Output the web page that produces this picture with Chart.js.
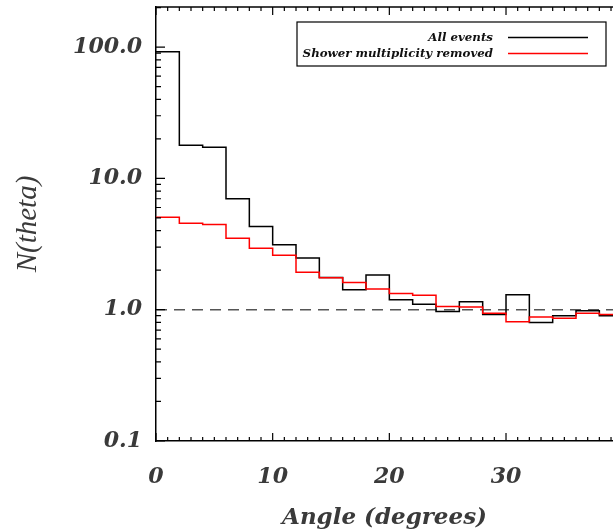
<!DOCTYPE html>
<html>
<head>
<meta charset="utf-8">
<script src="https://cdn.jsdelivr.net/npm/chart.js@4"></script>
<style>
  body { margin: 0; background: #fff; }
</style>
</head>
<body>
<canvas id="chart" width="613" height="532"></canvas>
<script>
// bin edges of the 2-degree histogram (left edge of each bin, then the last right edge)
const binEdges = [0, 2, 4, 6, 8, 10, 12, 14, 16, 18, 20, 22, 24, 26, 28, 30, 32, 34, 36, 38, 40];
const allEvents = [92, 17.9, 17.3, 7.0, 4.3, 3.13, 2.48, 1.76, 1.42, 1.84, 1.19, 1.1, 0.97, 1.15, 0.92, 1.3, 0.8, 0.9, 0.98, 0.9];
const showerRemoved = [5.07, 4.56, 4.46, 3.5, 2.94, 2.6, 1.93, 1.75, 1.61, 1.44, 1.33, 1.29, 1.06, 1.05, 0.94, 0.81, 0.88, 0.86, 0.94, 0.92];
const seriesLabels = ["All events", "Shower multiplicity removed"];
const xTickValues = [0, 10, 20, 30];
const xTickLabels = ["0", "10", "20", "30"];
const yTickValues = [0.1, 1, 10, 100];
const yTickLabels = ["0.1", "1.0", "10.0", "100.0"];
const referenceLevel = 1;

const tickFont = { family: "DejaVu Serif", size: 22, weight: "bold", style: "italic" };
const textColor = "#3a3a3a";

const toSteps = (values) => {
  const pts = values.map((v, i) => ({ x: binEdges[i], y: v }));
  pts.push({ x: binEdges[values.length], y: values[values.length - 1] });
  return pts;
};

// inward tick marks, top frame line and the boxed legend
const frame = {
  id: "frame",
  afterDraw(chart) {
    const { ctx, chartArea: a, scales } = chart;
    const x = scales.x;
    const y = scales.y;
    ctx.save();
    ctx.strokeStyle = "#000";
    ctx.lineWidth = 1.5;
    ctx.beginPath();
    ctx.moveTo(a.left, a.top);
    ctx.lineTo(a.right, a.top);
    ctx.stroke();

    ctx.lineWidth = 1.2;
    ctx.beginPath();
    for (let d = 0; d <= 40; d++) {
      const px = x.getPixelForValue(d);
      if (px > a.right + 1) break;
      const len = d % 10 === 0 ? 8 : 4;
      ctx.moveTo(px, a.bottom);
      ctx.lineTo(px, a.bottom - len);
      ctx.moveTo(px, a.top);
      ctx.lineTo(px, a.top + len);
    }
    for (let e = -1; e <= 2; e++) {
      for (let m = 1; m <= 9; m++) {
        const v = m * Math.pow(10, e);
        if (v > y.max) break;
        const py = y.getPixelForValue(v);
        const len = m === 1 ? 9 : 5;
        ctx.moveTo(a.left, py);
        ctx.lineTo(a.left + len, py);
      }
    }
    ctx.stroke();

    // legend
    const box = { left: 297, top: 22, right: 606, bottom: 66 };
    ctx.lineWidth = 1.2;
    ctx.strokeRect(box.left, box.top, box.right - box.left, box.bottom - box.top);
    ctx.font = "italic bold 11.8px 'DejaVu Serif'";
    ctx.textAlign = "right";
    ctx.textBaseline = "middle";
    const rows = [37.5, 53.5];
    chart.data.datasets.slice(0, 2).forEach((ds, i) => {
      ctx.fillStyle = "#111";
      ctx.fillText(ds.label, 493, rows[i]);
      ctx.strokeStyle = ds.borderColor;
      ctx.lineWidth = 1.3;
      ctx.beginPath();
      ctx.moveTo(508, rows[i]);
      ctx.lineTo(588, rows[i]);
      ctx.stroke();
    });
    ctx.restore();
  },
};

new Chart(document.getElementById("chart"), {
  type: "line",
  data: {
    datasets: [
      {
        label: seriesLabels[0],
        data: toSteps(allEvents),
        stepped: "before",
        borderColor: "#000000",
        borderWidth: 1.5,
        pointRadius: 0,
        fill: false,
        order: 1,
      },
      {
        label: seriesLabels[1],
        data: toSteps(showerRemoved),
        stepped: "before",
        borderColor: "#ff0000",
        borderWidth: 1.5,
        pointRadius: 0,
        fill: false,
        order: 0,
      },
      {
        label: "reference",
        data: [
          { x: binEdges[0], y: referenceLevel },
          { x: binEdges[binEdges.length - 1], y: referenceLevel },
        ],
        borderColor: "#555555",
        borderWidth: 1.5,
        borderDash: [11, 7],
        pointRadius: 0,
        fill: false,
        order: 2,
      },
    ],
  },
  options: {
    responsive: false,
    animation: false,
    layout: { padding: { top: 7, left: 0, right: 0, bottom: 0 } },
    plugins: {
      legend: { display: false },
      tooltip: { enabled: false },
    },
    scales: {
      x: {
        type: "linear",
        min: 0,
        max: 39.17,
        afterBuildTicks: (scale) => {
          scale.ticks = xTickValues.map((v) => ({ value: v }));
        },
        afterFit: (scale) => {
          scale.height = 91;
          scale.paddingLeft = 0;
          scale.paddingRight = 0;
        },
        ticks: {
          autoSkip: false,
          maxRotation: 0,
          padding: 23,
          color: textColor,
          font: tickFont,
          callback: (v) => xTickLabels[xTickValues.indexOf(v)],
        },
        grid: { display: false, drawTicks: false },
        border: { display: true, color: "#000", width: 1.5 },
        title: {
          display: true,
          text: "Angle (degrees)",
          color: textColor,
          padding: 0,
          font: { family: "DejaVu Serif", size: 23, weight: "bold", style: "italic" },
        },
      },
      y: {
        type: "logarithmic",
        min: 0.1,
        max: 202,
        afterBuildTicks: (scale) => {
          scale.ticks = yTickValues.map((v) => ({ value: v }));
        },
        afterFit: (scale) => {
          scale.width = 156;
          scale.paddingTop = 0;
          scale.paddingBottom = 0;
        },
        ticks: {
          autoSkip: false,
          padding: 14,
          color: textColor,
          font: tickFont,
          callback: (v) => yTickLabels[yTickValues.indexOf(v)],
        },
        grid: { display: false, drawTicks: false },
        border: { display: true, color: "#000", width: 1.5 },
        title: {
          display: true,
          text: "N(theta)",
          color: textColor,
          padding: { top: 11, bottom: 0 },
          font: { family: "Liberation Serif", size: 29, style: "italic" },
        },
      },
    },
  },
  plugins: [frame],
});
</script>
</body>
</html>
